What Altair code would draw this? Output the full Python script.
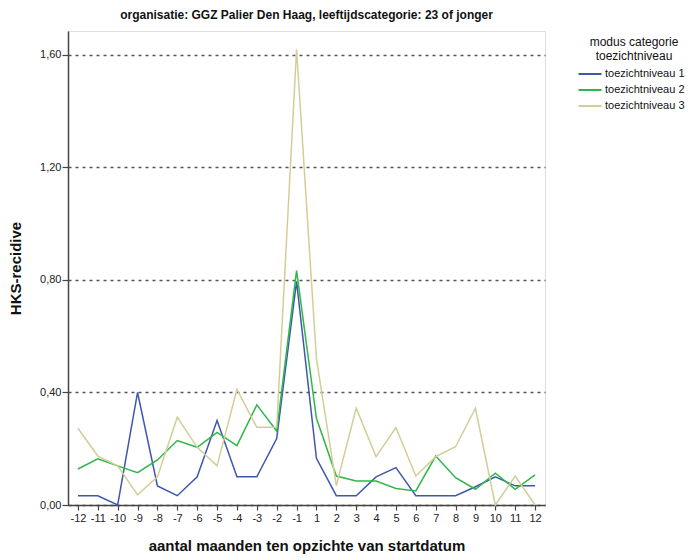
import altair as alt
import pandas as pd

months = ["-12", "-11", "-10", "-9", "-8", "-7", "-6", "-5", "-4", "-3", "-2", "-1",
          "1", "2", "3", "4", "5", "6", "7", "8", "9", "10", "11", "12"]
series_names = ["toezichtniveau 1", "toezichtniveau 2", "toezichtniveau 3"]
niveau1 = [0.033, 0.033, 0.0, 0.40, 0.068, 0.033, 0.10, 0.30, 0.10, 0.10, 0.236, 0.795,
           0.166, 0.033, 0.033, 0.10, 0.133, 0.033, 0.033, 0.033, 0.065, 0.10, 0.068, 0.068]
niveau2 = [0.128, 0.164, 0.139, 0.115, 0.16, 0.229, 0.205, 0.258, 0.211, 0.356, 0.263, 0.833,
           0.308, 0.103, 0.085, 0.085, 0.059, 0.05, 0.174, 0.097, 0.056, 0.113, 0.056, 0.107]
niveau3 = [0.273, 0.174, 0.139, 0.036, 0.10, 0.312, 0.205, 0.139, 0.411, 0.276, 0.276, 1.62,
           0.52, 0.069, 0.344, 0.172, 0.275, 0.103, 0.172, 0.207, 0.344, 0.0, 0.103, 0.0]
colors = ["#3E58AC", "#2EB848", "#D3CE97"]
y_ticks = [0.0, 0.4, 0.8, 1.2, 1.6]

rows = []
for name, vals in zip(series_names, [niveau1, niveau2, niveau3]):
    for m, v in zip(months, vals):
        rows.append({"maand": m, "waarde": v, "niveau": name})
df = pd.DataFrame(rows)

FONT = "Liberation Sans"

chart = alt.Chart(df).mark_line(strokeWidth=1.5).encode(
    x=alt.X("maand:O", sort=months, scale=alt.Scale(type="point", padding=0.5),
            axis=alt.Axis(title="aantal maanden ten opzichte van startdatum", labelAngle=0,
                          grid=False, tickSize=5, labelFontSize=11, labelColor="#222",
                          labelPadding=2, titleFontSize=15, titleFontWeight="bold",
                          titlePadding=15, titleColor="#111", domainColor="#444",
                          domainWidth=1.5, tickColor="#444", tickWidth=1.2, labelFont=FONT,
                          titleFont=FONT)),
    y=alt.Y("waarde:Q", scale=alt.Scale(domain=[0, 1.685], nice=False, zero=True),
            axis=alt.Axis(title="HKS-recidive", values=y_ticks,
                          labelExpr="replace(format(datum.value, '.2f'), '.', ',')",
                          grid=True, gridDash=[3, 4], gridColor="#555", gridWidth=1.5,
                          tickSize=6, labelFontSize=11, labelColor="#222", labelPadding=1,
                          titleFontSize=15, titleFontWeight="bold", titlePadding=16,
                          titleColor="#111", domainColor="#444", domainWidth=1.5,
                          tickColor="#444", tickWidth=1.2, labelFont=FONT, titleFont=FONT)),
    color=alt.Color("niveau:N", sort=series_names,
                    scale=alt.Scale(domain=series_names, range=colors),
                    legend=alt.Legend(title=["modus categorie", "toezichtniveau"],
                                      orient="none", legendX=516, legendY=6,
                                      symbolType="M-2.3,0L2.3,0", symbolSize=100,
                                      symbolStrokeWidth=2, labelFontSize=11,
                                      titleFontSize=12, titleFontWeight="normal",
                                      titleLineHeight=14,
                                      titleAnchor="middle", titleAlign="center",
                                      titleColor="#111", labelColor="#111",
                                      titleFont=FONT, labelFont=FONT, labelOffset=9,
                                      rowPadding=5, titlePadding=5)),
).properties(
    width=477,
    height=474,
    title=alt.TitleParams("organisatie: GGZ Palier Den Haag, leeftijdscategorie: 23 of jonger",
                          fontSize=12, fontWeight="bold", font=FONT, color="#111",
                          anchor="middle", offset=9),
    autosize=alt.AutoSizeParams(type="none"),
    padding={"left": 60, "top": 23, "right": 145, "bottom": 55},
).configure_view(
    stroke="#444", strokeWidth=1.5
).configure(background="white")

chart.save("out.html", embed_options={"renderer": "svg", "actions": False})
